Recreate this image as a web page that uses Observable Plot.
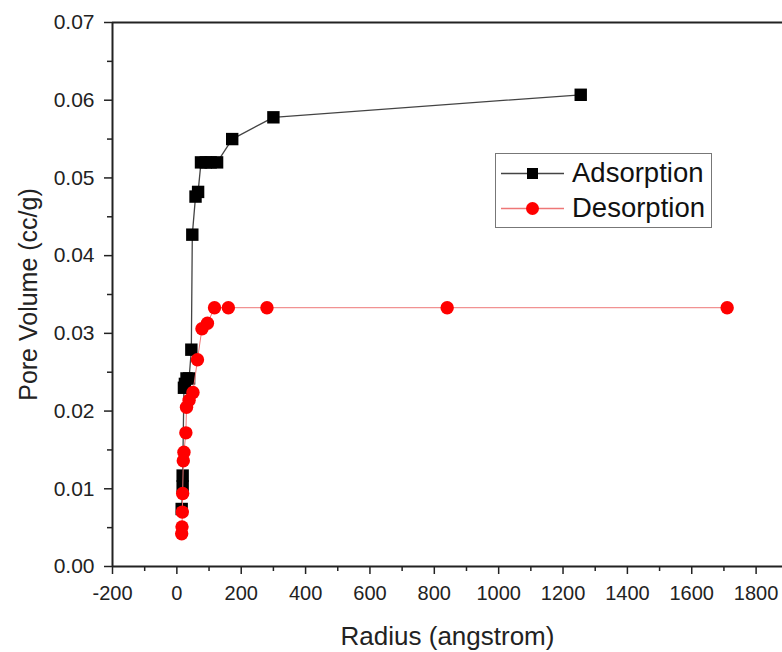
<!DOCTYPE html>
<html><head><meta charset="utf-8">
<script src="https://cdn.jsdelivr.net/npm/d3@7"></script>
<script src="https://cdn.jsdelivr.net/npm/@observablehq/plot@0.6"></script>
<style>
body{margin:0;background:#fff;}
#wrap{position:relative;width:782px;height:652px;overflow:hidden;}
#legend{position:absolute;left:495px;top:153px;width:217px;height:75px;border:1px solid #777;background:#fff;box-sizing:border-box;font-family:"Liberation Sans",Arial,sans-serif;font-size:27.5px;color:#111;}
.row{position:absolute;left:0;height:30px;display:flex;align-items:center;}
.row svg{margin-left:5px;margin-right:8px;}
</style></head>
<body><div id="wrap"><div id="chart"></div><div id="legend"></div></div>
<script>
// Adsorption (black squares)
const adsRadius = [15, 18, 18, 22, 25, 30, 38, 45, 48, 58, 66, 75, 90, 105, 125, 172, 300, 1255];
const adsVolume = [0.0074, 0.0103, 0.0117, 0.0230, 0.0235, 0.0242, 0.0242, 0.0279, 0.0427, 0.0476, 0.0482, 0.0520, 0.0520, 0.0520, 0.0520, 0.0550, 0.0578, 0.0607];
// Desorption (red circles)
const desRadius = [15, 16, 17, 18, 20, 22, 28, 30, 38, 50, 64, 78, 95, 117, 160, 280, 840, 1710];
const desVolume = [0.0042, 0.0051, 0.0070, 0.0094, 0.0136, 0.0147, 0.0172, 0.0205, 0.0214, 0.0224, 0.0266, 0.0306, 0.0313, 0.0333, 0.0333, 0.0333, 0.0333, 0.0333];

const xTicks = [-200, 0, 200, 400, 600, 800, 1000, 1200, 1400, 1600, 1800];
const xMinorTicks = [-100, 100, 300, 500, 700, 900, 1100, 1300, 1500, 1700];
const yTicks = [0, 0.01, 0.02, 0.03, 0.04, 0.05, 0.06, 0.07];
const yMinorTicks = [0.005, 0.015, 0.025, 0.035, 0.045, 0.055, 0.065];
const xDomain = [-200, 1882];
const yDomain = [0, 0.07];
const seriesNames = ["Adsorption", "Desorption"];
const xTitle = "Radius (angstrom)";
const yTitle = "Pore Volume (cc/g)";

const ads = adsRadius.map((r, i) => ({r, v: adsVolume[i]}));
const des = desRadius.map((r, i) => ({r, v: desVolume[i]}));

const font = "'Liberation Sans', Arial, sans-serif";
const axisColor = "#222";

const chart = Plot.plot({
  width: 782, height: 652,
  marginLeft: 112, marginRight: 0, marginTop: 22, marginBottom: 86,
  x: {domain: xDomain},
  y: {domain: yDomain},
  style: {fontFamily: font, color: axisColor, background: "#fff"},
  marks: [
    Plot.axisX(xTicks, {tickSize: 8, tickPadding: 11, tickFormat: d => String(d), fontSize: 20, label: null, strokeWidth: 1.5}),
    Plot.axisX(xMinorTicks, {tickSize: 5, tickFormat: () => "", label: null, strokeWidth: 1.5}),
    Plot.axisY(yTicks, {tickSize: 8, tickPadding: 10, tickFormat: d3.format(".2f"), fontSize: 21, label: null, strokeWidth: 1.5}),
    Plot.axisY(yMinorTicks, {tickSize: 5, tickFormat: () => "", label: null, strokeWidth: 1.5}),
    Plot.ruleY([yDomain[0]], {stroke: axisColor, strokeWidth: 2}),
    Plot.ruleY([yDomain[1]], {stroke: axisColor, strokeWidth: 2}),
    Plot.ruleX([xDomain[0]], {stroke: axisColor, strokeWidth: 2}),
    Plot.text([xTitle], {frameAnchor: "bottom", textAnchor: "middle", lineAnchor: "middle", dy: 70, fontSize: 26, fill: "#222"}),
    Plot.text([yTitle], {frameAnchor: "left", textAnchor: "middle", lineAnchor: "middle", dx: -84, rotate: -90, fontSize: 25, fill: "#222"}),
    Plot.line(ads, {x: "r", y: "v", stroke: "#444", strokeWidth: 1.3}),
    Plot.dot(ads, {x: "r", y: "v", symbol: "square", r: 7, fill: "#000", stroke: "none"}),
    Plot.line(des, {x: "r", y: "v", stroke: "#e77", strokeWidth: 1}),
    Plot.dot(des, {x: "r", y: "v", symbol: "circle", r: 6.7, fill: "#ff0000", stroke: "none"})
  ]
});
document.getElementById("chart").appendChild(chart);

// Legend
const legend = document.getElementById("legend");
const styles = [
  {line: "#444", fill: "#000", sym: "square"},
  {line: "#e77", fill: "#ff0000", sym: "circle"}
];
seriesNames.forEach((name, i) => {
  const row = document.createElement("div");
  row.className = "row";
  row.style.top = (4 + i * 35) + "px";
  const s = styles[i];
  const marker = s.sym === "square"
    ? `<rect x="26" y="4" width="11" height="11" fill="${s.fill}"/>`
    : `<circle cx="31.5" cy="9.5" r="6.5" fill="${s.fill}"/>`;
  row.innerHTML = `<svg width="63" height="19"><line x1="0" x2="63" y1="9.5" y2="9.5" stroke="${s.line}" stroke-width="1.3"/>${marker}</svg><span>${name}</span>`;
  legend.appendChild(row);
});
</script></body></html>
